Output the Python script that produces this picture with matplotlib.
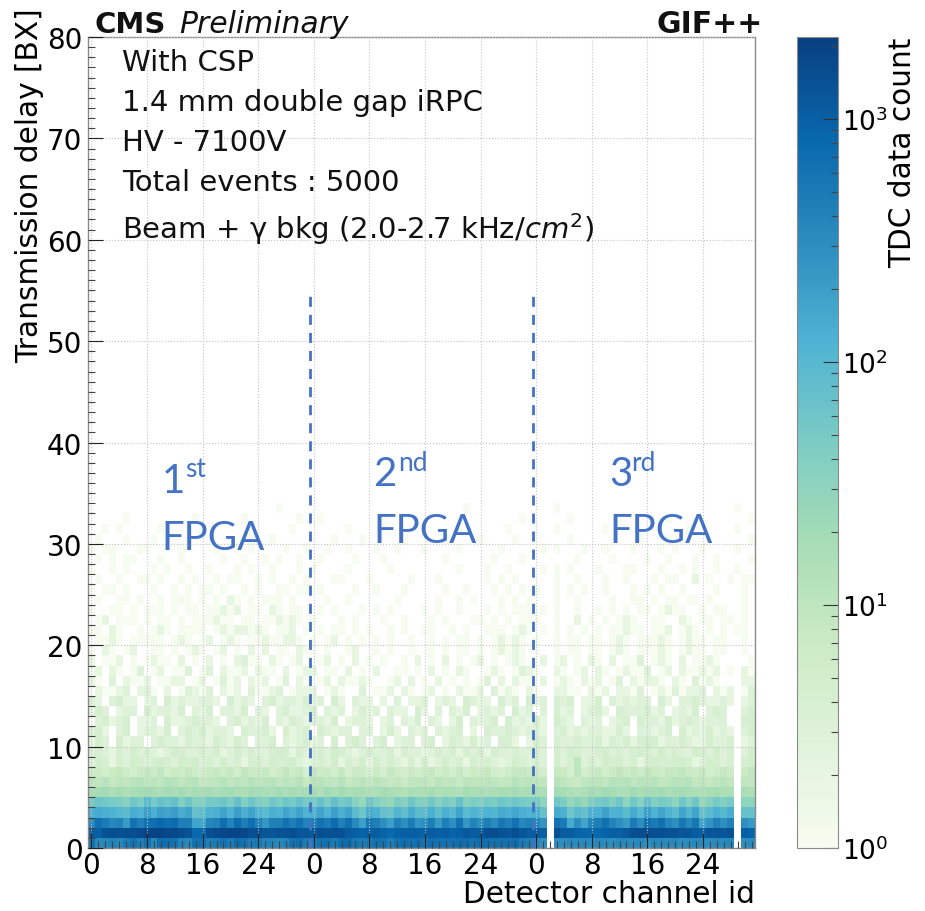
import numpy as np
import matplotlib
matplotlib.use("Agg")
import matplotlib.pyplot as plt
from matplotlib.colors import LogNorm
from matplotlib.ticker import MultipleLocator

channel_tick_positions = [0, 8, 16, 24, 32, 40, 48, 56, 64, 72, 80, 88]
channel_tick_labels = ["0", "8", "16", "24", "0", "8", "16", "24", "0", "8", "16", "24"]
delay_ticks = [0, 10, 20, 30, 40, 50, 60, 70, 80]
info_lines = ["With CSP", "1.4 mm double gap iRPC", "HV - 7100V", "Total events : 5000",
              "Beam + γ bkg (2.0-2.7 kHz/$cm^2$)"]
fpga_boundaries = [31.4, 63.5]
dead_channels = [66, 93]

bx0 = [600,350,350,400,350,500,600,450,650,350,700,700,600,400,350,600,650,450,500,600,500,700,650,500,550,400,400,350,400,600,700,500,
       500,600,650,500,700,750,550,500,550,650,600,450,600,700,650,700,600,700,650,600,650,700,700,600,750,700,650,600,600,700,500,450,
       350,300,0,300,300,350,320,350,320,350,320,300,350,350,320,350,300,350,350,320,350,300,330,350,330,300,350,320,350,0,300,320]
bx1 = [1100,1000,1400,1500,1500,1500,1500,1700,1900,2000,2000,1800,1800,1600,1400,800,800,1500,1700,1800,1900,1900,1800,1500,1500,1300,1300,1400,1400,1500,1300,1300,
       1200,1500,1400,1500,1400,1100,1000,900,1000,1100,900,800,900,1000,1000,1000,950,1100,1000,1100,900,1000,1200,1100,1100,1500,1600,1400,1300,1500,1300,1100,
       1100,1000,0,1500,1100,1100,900,850,800,800,900,1000,1000,1200,1500,1600,1600,1500,1500,1400,1400,1300,1300,1100,1000,1300,1300,1300,1400,0,1000,900]
bx2 = [350,650,500,350,400,220,600,420,650,700,800,700,750,450,450,170,160,380,420,700,400,750,450,700,400,250,420,450,650,450,600,400,
       420,650,500,750,420,650,350,200,520,450,300,200,420,300,500,250,300,450,220,450,300,600,250,400,300,450,320,550,420,620,350,420,
       350,260,0,600,500,150,300,170,380,450,650,400,300,220,500,300,650,500,620,380,300,550,350,550,170,260,420,300,420,0,300,220]
bx3 = [130,150,130,120,100,90,140,120,200,130,200,170,210,140,170,70,80,120,130,180,120,200,130,170,120,90,130,120,170,130,170,120,
       130,180,120,200,130,170,90,60,140,120,70,65,110,80,140,90,90,130,80,130,100,170,90,120,100,120,110,150,130,160,130,120,
       130,70,0,150,130,60,90,70,120,130,190,120,130,90,150,100,190,120,170,120,90,170,110,170,70,90,130,100,140,0,70,70]
bx4 = [50,60,55,50,45,35,60,45,90,50,70,60,75,40,60,35,40,50,50,60,45,70,40,60,45,35,55,45,60,50,70,50,
       50,70,45,75,50,60,35,25,60,40,30,25,45,35,60,40,40,55,35,50,40,70,35,45,40,50,45,60,50,60,50,45,
       50,30,0,60,45,25,35,25,40,50,55,40,60,30,55,35,70,40,50,45,30,60,35,60,25,35,50,40,50,0,30,30]

# One character per channel (base 36 count), grouped by eight channels; first entry is BX 5.
upper_rows = [
 "hjkgifhj kigjhkgi hjgikhgj ihfkgjhi ifkhjgih fgjhfehg gifhgeig hfgihjgh hg0kifef jhkigfkh jikgijhg ehifg0hf",
 "a9c8a9bc 9badc9bc 89ac9bad abc9bac8 bca9c8ab 8b98979a a8b9a8ba 9ba89cab a90ca87a ab9cbdac bc9acbd9 a8ab90a9",
 "67578657 86957686 57868597 68579684 86758476 47486575 68575857 68546887 650874a5 68579786 97688976 85686079",
 "35424354 34543545 34353424 43544532 34352435 25343242 42353424 34323543 430534a3 43545342 45445542 35434045",
 "34324353 43235433 43423534 33454243 34354323 43342433 23434243 42433433 43053543 34534345 43534335 43534035",
 "24304233 03433243 32432430 33403234 23040353 03402330 34024324 23044202 43043343 34243424 54233432 24334023",
 "34203402 33240343 42332043 34204234 04323303 30242032 30323402 04334323 32034232 33224203 32340423 24232034",
 "03423402 23042234 33203423 24032432 33240233 20230324 03202403 23404232 42053203 23023404 33242343 23330244",
 "24302330 42332403 24033240 32034223 40323024 23032204 20303240 23230423 03042302 34204333 42302324 03430034",
 "32034220 23042322 33204232 03423324 23042032 20203022 30232043 22042304 23043402 24032323 30420334 32232023",
 "02112302 31020132 13021203 11230122 20121003 01120210 12010211 20312102 10022110 21202213 01213122 30212013",
 "21030211 20112201 20131202 12013021 01202112 10012020 10201010 13020211 02012102 12013021 22102103 12100122",
 "12021013 01201130 13021120 21102012 20110201 02001101 02010210 01210132 10021012 02101211 30120211 21201021",
 "20112010 12110201 02010231 10210120 01201020 10100102 01020101 20101210 02012010 21020113 01210201 12100201",
 "10210120 01101012 10120102 02011021 10100120 01010010 01010110 10121210 10010110 11012101 11210121 10110010",
 "01121011 11101210 12012101 12112210 10120101 01010010 01010110 10121210 10010110 11012101 11210121 10110010",
 "11021001 01210111 10121221 21011201 01011010 10010100 11001010 01110121 01010101 01011211 01120121 01010110",
 "01201110 10110101 11211011 01121210 10001010 00100100 01010001 10101011 10010020 10101210 01100210 11011010",
 "10011010 11101011 01121201 10210110 01010001 01010000 10100100 01010111 01010010 01010101 10121100 10110010",
 "01001101 00101110 10102101 01110100 00100100 00001000 00100101 00010101 00010010 00010011 01011011 01000010",
 "10110100 01001010 11010010 10011011 01000010 01000100 00010010 00101010 10010101 00100010 10100100 00100010",
 "01001001 10100101 00101100 10100101 00011000 10000010 00100000 01010100 00010010 00100100 01011002 01001011",
 "10010100 01010010 01000101 00100010 10000100 00010000 00000100 01001000 01010100 01000110 00100101 00100100",
 "01010110 00100100 00010010 01010010 01000010 00100000 00010000 00100010 00000010 00010000 10010001 00100001",
 "10110001 10000100 00100101 00001001 00100100 01001000 10000100 00010000 01010001 00100010 00101000 10000100",
 "01000100 01000010 00000001 00100000 00010001 00000100 00010000 10000100 00000100 00000001 00010100 00000001",
 "00101000 00100000 10000001 00000100 00000100 00000000 00000100 00001000 00010000 00100000 00000010 00000100",
 "00000100 00000001 00000010 00000010 01000000 00100000 00000000 00000010 00000100 00000000 00010000 00000001",
 "00000000 00000000 00000000 00010000 00000000 00000000 00000010 00000000 00010000 00000000 00000000 00000100",
]

H = np.zeros((80, 96))
for i, row in enumerate([bx0, bx1, bx2, bx3, bx4]):
    H[i] = row
for i, s in enumerate(upper_rows):
    s = (s.replace(" ", "") + "0" * 96)[:96]
    H[5 + i] = [int(c, 36) for c in s]
H[:20, dead_channels] = 0
H = np.ma.masked_where(H <= 0, H)

W, Ht = 925, 912
fig = plt.figure(figsize=(W / 100, Ht / 100), dpi=100)
ax = fig.add_axes([88 / W, 1 - 849 / Ht, 667 / W, 811 / Ht])
cax = fig.add_axes([797 / W, 1 - 849 / Ht, 41 / W, 811 / Ht])

xe = np.arange(97) - 0.5
ye = np.arange(81)
m = ax.pcolormesh(xe, ye, H, cmap="GnBu", norm=LogNorm(1, 2180), shading="flat", antialiased=False, zorder=1)
ax.set_xlim(-0.5, 95.5)
ax.set_ylim(0, 80)
ax.set_xticks(channel_tick_positions)
ax.set_xticklabels(channel_tick_labels)
ax.xaxis.set_minor_locator(MultipleLocator(1))
ax.set_yticks(delay_ticks)
ax.yaxis.set_minor_locator(MultipleLocator(1))
ax.tick_params(which="major", direction="in", length=10.5, width=0.8, labelsize=20, color="#222222", top=False, right=False)
ax.tick_params(which="minor", direction="in", length=5.2, width=0.8, color="#444444", top=False, right=False)
ax.tick_params(axis="x", which="major", pad=2)
ax.tick_params(axis="y", which="major", pad=4)
ax.grid(True, which="major", color="#c4c4c4", linestyle=":", linewidth=0.8, zorder=2)
ax.set_axisbelow(False)
for sp in ax.spines.values():
    sp.set_color("#8a8a8a")
    sp.set_linewidth(1.0)

ax.set_xlabel("Detector channel id", fontsize=21.3, loc="right", labelpad=0)
ax.set_ylabel("Transmission delay [BX]", fontsize=21.3, loc="top")
ax.yaxis.set_label_coords((44 - 88) / 667, (849 - 8) / 811)

for x in fpga_boundaries:
    ax.plot([x, x], [0, 54.6], color="#4472C4", linewidth=2.0, linestyle=(0, (3.6, 2.9)), zorder=4)

for x, yn, sx, ys, yf, num, sup in [(10.1, 35.1, 13.5, 36.7, 29.5, "1", "st"),
                                    (40.6, 35.8, 44.1, 37.3, 30.2, "2", "nd"),
                                    (74.6, 35.8, 77.6, 37.3, 30.2, "3", "rd")]:
    ax.text(x, yn, num, fontsize=29, color="#4472C4", family="Lato", va="baseline", zorder=5)
    ax.text(sx, ys, sup, fontsize=19, color="#4472C4", family="Lato", va="baseline", zorder=5)
    ax.text(x, yf, "FPGA", fontsize=29, color="#4472C4", family="Lato", va="baseline", zorder=5)

for txt, py in zip(info_lines, [63, 103, 143, 183, 229]):
    fig.text(122 / W, 1 - py / Ht, txt, fontsize=21, va="center", ha="left", color="#111111")

fig.text(95 / W, 1 - 33 / Ht, "CMS", fontsize=21, fontweight="bold", va="baseline", ha="left", color="#111111")
fig.text(179 / W, 1 - 33 / Ht, "Preliminary", fontsize=21.5, fontstyle="italic", va="baseline", ha="left", color="#111111")
fig.text(763 / W, 1 - 33 / Ht, "GIF++", fontsize=21.5, fontweight="bold", va="baseline", ha="right", color="#111111")

cb = fig.colorbar(m, cax=cax)
cb.ax.tick_params(which="major", direction="in", length=10.5, width=0.8, labelsize=19, color="#333333", pad=3)
cb.ax.tick_params(which="minor", direction="in", length=5.2, width=0.8, color="#444444")
cb.set_label("TDC data count", fontsize=21.3, loc="top")
cb.ax.yaxis.set_label_coords((888 - 797) / 41, 1.0)
cb.outline.set_edgecolor("#8a8a8a")

fig.savefig("out.png", dpi=100)
